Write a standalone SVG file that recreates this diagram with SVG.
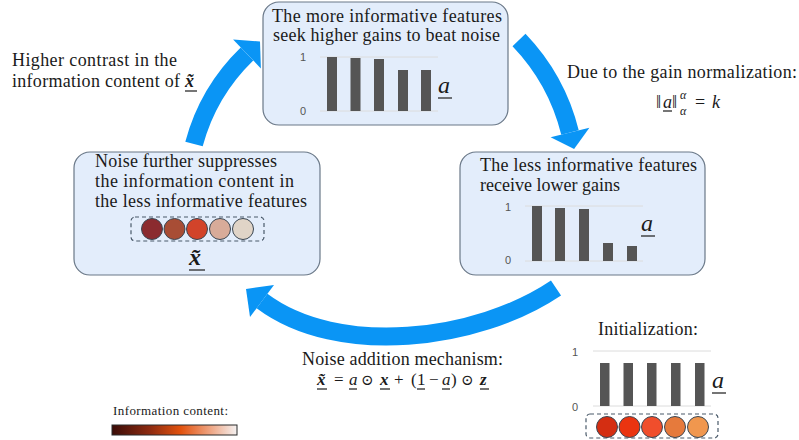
<svg xmlns="http://www.w3.org/2000/svg" width="799" height="440" viewBox="0 0 799 440">
<defs>
<linearGradient id="info" x1="0" y1="0" x2="1" y2="0">
<stop offset="0" stop-color="#3a0c07"/>
<stop offset="0.3" stop-color="#8c2a10"/>
<stop offset="0.55" stop-color="#e2520e"/>
<stop offset="0.78" stop-color="#eea27f"/>
<stop offset="1" stop-color="#f4f1f1"/>
</linearGradient>
</defs>
<style>
.box{fill:#e3edfb;stroke:#6a7888;stroke-width:1.2}
.t{font-family:"Liberation Serif","DejaVu Serif",serif;font-size:18px;fill:#1a1a1a}
.big{font-size:24px}
.sm{font-size:13px}
.it{font-style:italic}
.bi{font-style:italic;font-weight:bold}
.ax{font-family:"Liberation Sans",Arial,sans-serif;font-size:11px;fill:#555}
.grid{stroke:#dcdcdc;stroke-width:1}
.bar{fill:#555555}
.ul{stroke:#1a1a1a;stroke-width:1.2}
.dash{fill:none;stroke:#4a5a6a;stroke-width:1.2;stroke-dasharray:4 3}
.dot{stroke:#3a4652;stroke-width:1}
.arc{fill:none;stroke:#0a95f5;stroke-width:18;stroke-linecap:butt}
.head{fill:#0a95f5}
</style>

<g id="connectors">
<path class="arc" d="M 194 144 A 196 196 0 0 1 247 54"/>
<polygon class="head" points="233.1,39.6 260,41.5 260.9,68.4"/>
<path class="arc" d="M 519 40 A 205 205 0 0 1 570 132.5"/>
<polygon class="head" points="589.4,127.7 574.1,149 550.6,137.3"/>
<path class="arc" d="M 556 288 C 477.1 341.2, 338 358, 262 301"/>
<polygon class="head" points="274,285 246,289 250,317"/>
</g>

<g id="node-top">
<rect class="box" x="263" y="2" width="245" height="123" rx="16"/>
<text class="t" x="272" y="22" textLength="230">The more informative features</text>
<text class="t" x="273" y="41" textLength="227">seek higher gains to beat noise</text>
<line class="grid" x1="320" y1="57" x2="438" y2="57"/>
<line class="grid" x1="320" y1="111" x2="438" y2="111"/>
<text class="ax" x="300" y="61">1</text>
<text class="ax" x="300" y="115">0</text>
<rect class="bar" x="327" y="57" width="10" height="54"/>
<rect class="bar" x="350.5" y="58" width="10" height="53"/>
<rect class="bar" x="374" y="59" width="10" height="52"/>
<rect class="bar" x="398" y="70" width="10" height="41"/>
<rect class="bar" x="421" y="70" width="10" height="41"/>
<text class="t it big" x="438" y="93">a</text>
<line class="ul" x1="438" y1="98" x2="452" y2="98"/>
</g>

<g id="node-right">
<rect class="box" x="460" y="152" width="245" height="123" rx="16"/>
<text class="t" x="480" y="171" textLength="217">The less informative features</text>
<text class="t" x="480" y="191" textLength="140">receive lower gains</text>
<line class="grid" x1="525" y1="206" x2="643" y2="206"/>
<line class="grid" x1="525" y1="261" x2="643" y2="261"/>
<text class="ax" x="505" y="211">1</text>
<text class="ax" x="505" y="264">0</text>
<rect class="bar" x="532" y="206" width="10" height="55"/>
<rect class="bar" x="555" y="208" width="10" height="53"/>
<rect class="bar" x="579" y="209" width="10" height="52"/>
<rect class="bar" x="603" y="243" width="10" height="18"/>
<rect class="bar" x="627" y="246" width="10" height="15"/>
<text class="t it big" x="641" y="231">a</text>
<line class="ul" x1="641" y1="236" x2="655" y2="236"/>
</g>

<g id="node-left">
<rect class="box" x="74" y="152" width="246" height="123" rx="16"/>
<text class="t" x="95" y="167" textLength="182">Noise further suppresses</text>
<text class="t" x="95" y="187" textLength="199">the information content in</text>
<text class="t" x="95" y="207" textLength="212">the less informative features</text>
<rect class="dash" x="131" y="217" width="133" height="24" rx="4"/>
<circle class="dot" cx="152" cy="229" r="10.5" fill="#8b2b2f"/>
<circle class="dot" cx="174.5" cy="229" r="10.5" fill="#a84d35"/>
<circle class="dot" cx="197" cy="229" r="10.5" fill="#d2432a"/>
<circle class="dot" cx="220" cy="229" r="10.5" fill="#d8ab99"/>
<circle class="dot" cx="243" cy="229" r="10.5" fill="#e0d4c7"/>
<text class="t bi big" x="189" y="265">x̃</text>
<line class="ul" x1="189" y1="270" x2="205" y2="270"/>
</g>

<g id="node-init">
<text class="t" x="598" y="335" textLength="100">Initialization:</text>
<line class="grid" x1="593" y1="351" x2="711" y2="351"/>
<line class="grid" x1="593" y1="406" x2="711" y2="406"/>
<text class="ax" x="572" y="356">1</text>
<text class="ax" x="572" y="411">0</text>
<rect class="bar" x="600" y="363" width="9.5" height="43"/>
<rect class="bar" x="623.5" y="363" width="9.5" height="43"/>
<rect class="bar" x="647" y="363" width="9.5" height="43"/>
<rect class="bar" x="671" y="363" width="9.5" height="43"/>
<rect class="bar" x="695" y="363" width="9.5" height="43"/>
<text class="t it big" x="712" y="388">a</text>
<line class="ul" x1="712" y1="393" x2="726" y2="393"/>
<rect class="dash" x="586" y="414" width="132" height="24" rx="4"/>
<circle class="dot" cx="607" cy="427" r="10.5" fill="#d42e12"/>
<circle class="dot" cx="629.5" cy="427" r="10.5" fill="#ea3410"/>
<circle class="dot" cx="652" cy="427" r="10.5" fill="#f04e2c"/>
<circle class="dot" cx="675" cy="427" r="10.5" fill="#e67a3c"/>
<circle class="dot" cx="698" cy="427" r="10.5" fill="#f0974e"/>
</g>

<g id="label-contrast">
<text class="t"><tspan x="12" y="66" textLength="165">Higher contrast in the</tspan><tspan x="12" y="87" textLength="168">information content of</tspan><tspan class="bi" x="185" y="87">x̃</tspan></text>
<line class="ul" x1="185" y1="91" x2="197" y2="91"/>
</g>

<g id="label-normalization">
<text class="t"><tspan x="567" y="78" textLength="230">Due to the gain normalization:</tspan><tspan x="656" y="108">‖</tspan><tspan class="it" x="663" y="108">a</tspan><tspan x="672" y="108">‖</tspan><tspan class="it" x="680" y="99" style="font-size:12px">α</tspan><tspan class="it" x="680" y="115" style="font-size:12px">α</tspan><tspan x="695" y="108">=</tspan><tspan class="it" x="712" y="108">k</tspan></text>
<line class="ul" x1="663" y1="111" x2="672" y2="111"/>
</g>

<g id="label-noise">
<text class="t" x="302" y="365" textLength="201">Noise addition mechanism:</text>
<text class="t" style="font-size:17px"><tspan class="bi" x="317" y="385">x̃</tspan><tspan x="334" y="385">=</tspan><tspan class="it" x="349" y="385">a</tspan><tspan x="361" y="385" style="font-size:15px">⊙</tspan><tspan class="bi" x="380" y="385">x</tspan><tspan x="394" y="385">+</tspan><tspan x="411" y="385">(</tspan><tspan x="417" y="385">1</tspan><tspan x="429" y="385">−</tspan><tspan class="it" x="442" y="385">a</tspan><tspan x="451" y="385">)</tspan><tspan x="461" y="385" style="font-size:15px">⊙</tspan><tspan class="bi" x="480" y="385">z</tspan></text>
<line class="ul" x1="317" y1="389" x2="327" y2="389"/>
<line class="ul" x1="349" y1="389" x2="357" y2="389"/>
<line class="ul" x1="380" y1="389" x2="390" y2="389"/>
<line class="ul" x1="417" y1="389" x2="425" y2="389"/>
<line class="ul" x1="442" y1="389" x2="450" y2="389"/>
<line class="ul" x1="480" y1="389" x2="489" y2="389"/>
</g>

<g id="legend">
<text class="t sm" x="113" y="415" textLength="115">Information content:</text>
<rect x="112" y="425" width="125" height="10" fill="url(#info)" stroke="#2a2a2a" stroke-width="1"/>
</g>
</svg>
